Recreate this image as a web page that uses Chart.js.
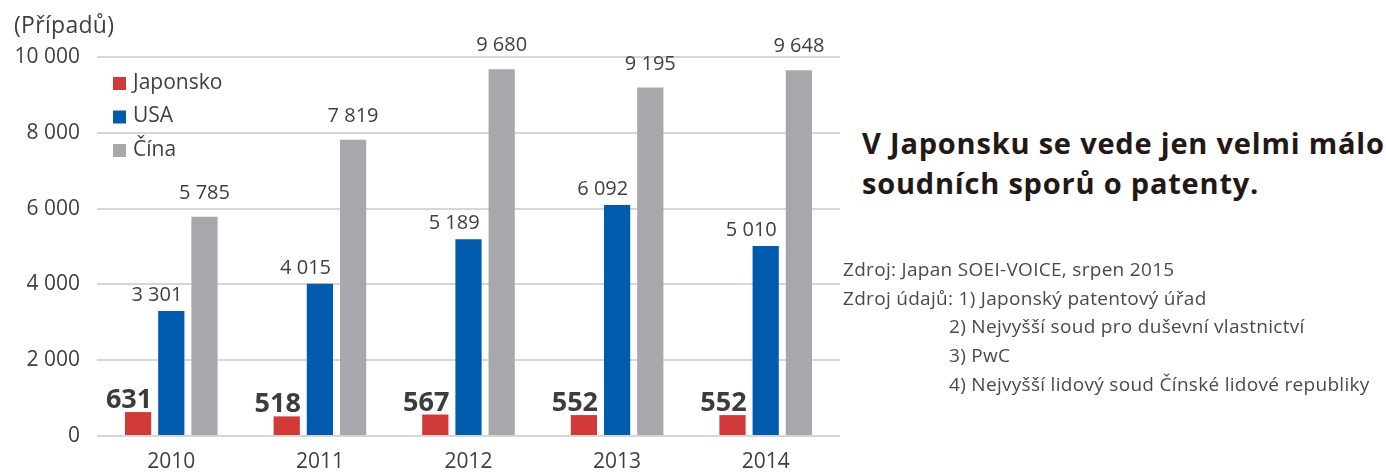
<!DOCTYPE html>
<html lang="cs">
  <head>
    <meta charset="UTF-8" />
    <title>Patentové spory</title>
    <style>
      body { margin: 0; width: 1386px; height: 472px; background: #fff; position: relative; overflow: hidden; font-family: "Open Sans", sans-serif; color: #404040; }
      #wrap { position: absolute; left: 0; top: 0; width: 850px; height: 472px; }
      .unit { position: absolute; left: 14px; top: 8px; font-size: 23px; letter-spacing: 0.3px; }
      .headline { position: absolute; left: 862px; top: 123px; font-size: 29px; font-weight: 700; line-height: 40px; color: #231815; letter-spacing: 0.8px; white-space: nowrap; }
      .source { position: absolute; left: 843px; top: 255px; font-size: 19px; line-height: 28.7px; color: #4a4a4a; letter-spacing: 0.3px; white-space: nowrap; }
      .source .ind { padding-left: 106px; }
    </style>
  </head>
  <body>
    <div id="wrap"><canvas id="chart"></canvas></div>
    <div class="unit">(Případů)</div>
    <div class="headline">V Japonsku se vede jen velmi málo<br />soudních sporů o patenty.</div>
    <div class="source">
      <div>Zdroj: Japan SOEI-VOICE, srpen 2015</div>
      <div>Zdroj údajů: 1) Japonský patentový úřad</div>
      <div class="ind">2) Nejvyšší soud pro duševní vlastnictví</div>
      <div class="ind">3) PwC</div>
      <div class="ind">4) Nejvyšší lidový soud Čínské lidové republiky</div>
    </div>

    <script src="https://cdn.jsdelivr.net/npm/chart.js"></script>
    <script>
      const years = ["2010", "2011", "2012", "2013", "2014"];
      const japan = [631, 518, 567, 552, 552];
      const usa = [3301, 4015, 5189, 6092, 5010];
      const china = [5785, 7819, 9680, 9195, 9648];
      const seriesNames = ["Japonsko", "USA", "Čína"];
      const colors = ["#d23a3a", "#005bac", "#a7a8ab"];

      const fontFamily = '"Open Sans", sans-serif';

      function fmt(v) {
        return String(v).replace(/\B(?=(\d{3})+(?!\d))/g, " ");
      }

      // value labels above bars
      const valueLabels = {
        id: "valueLabels",
        afterDatasetsDraw(chart) {
          const ctx = chart.ctx;
          ctx.save();
          chart.data.datasets.forEach((ds, i) => {
            const meta = chart.getDatasetMeta(i);
            meta.data.forEach((bar, j) => {
              const v = ds.data[j];
              const right = bar.x + bar.width / 2;
              ctx.textBaseline = "alphabetic";
              if (i === 0) {
                ctx.font = "bold 27px " + fontFamily;
                ctx.fillStyle = "#3c3c3c";
                ctx.textAlign = "right";
                ctx.fillText(fmt(v), right + 1, bar.y - 4);
              } else if (i === 1) {
                ctx.font = "20px " + fontFamily;
                ctx.fillStyle = "#404040";
                ctx.textAlign = "right";
                ctx.fillText(fmt(v), right - 2, bar.y - 10);
              } else {
                ctx.font = "20px " + fontFamily;
                ctx.fillStyle = "#404040";
                ctx.textAlign = "center";
                ctx.fillText(fmt(v), bar.x, bar.y - 18);
              }
            });
          });
          ctx.restore();
        },
      };

      // legend drawn inside the plot
      const insideLegend = {
        id: "insideLegend",
        afterDraw(chart) {
          const ctx = chart.ctx;
          ctx.save();
          ctx.font = "21px " + fontFamily;
          ctx.textBaseline = "middle";
          ctx.textAlign = "left";
          chart.data.datasets.forEach((ds, i) => {
            const y = 83 + i * 33.5;
            ctx.fillStyle = ds.backgroundColor;
            ctx.fillRect(113, y - 6, 13, 13);
            ctx.fillStyle = "#404040";
            ctx.fillText(ds.label, 133, y);
          });
          ctx.restore();
        },
      };

      new Chart(document.getElementById("chart"), {
        type: "bar",
        data: {
          labels: years,
          datasets: [japan, usa, china].map((d, i) => ({
            label: seriesNames[i],
            data: d,
            backgroundColor: colors[i],
            categoryPercentage: 0.67,
            barPercentage: 0.79,
          })),
        },
        options: {
          responsive: true,
          maintainAspectRatio: false,
          animation: false,
          layout: { padding: { top: 57, right: 10, left: 0, bottom: 0 } },
          plugins: { legend: { display: false }, tooltip: { enabled: false } },
          scales: {
            x: {
              grid: { display: false },
              border: { display: false },
              ticks: { color: "#404040", font: { family: fontFamily, size: 21 }, padding: 5 },
              afterFit(scale) { scale.height = 36; },
            },
            y: {
              min: 0,
              max: 10000,
              ticks: {
                stepSize: 2000,
                color: "#404040",
                padding: 17,
                font: { family: fontFamily, size: 21 },
                callback: (v) => fmt(v),
              },
              grid: { color: "#d6d6d6", lineWidth: 2, drawTicks: false },
              border: { display: false },
              afterFit(scale) { scale.width = 97; },
            },
          },
        },
        plugins: [valueLabels, insideLegend],
      });
    </script>
  </body>
</html>
